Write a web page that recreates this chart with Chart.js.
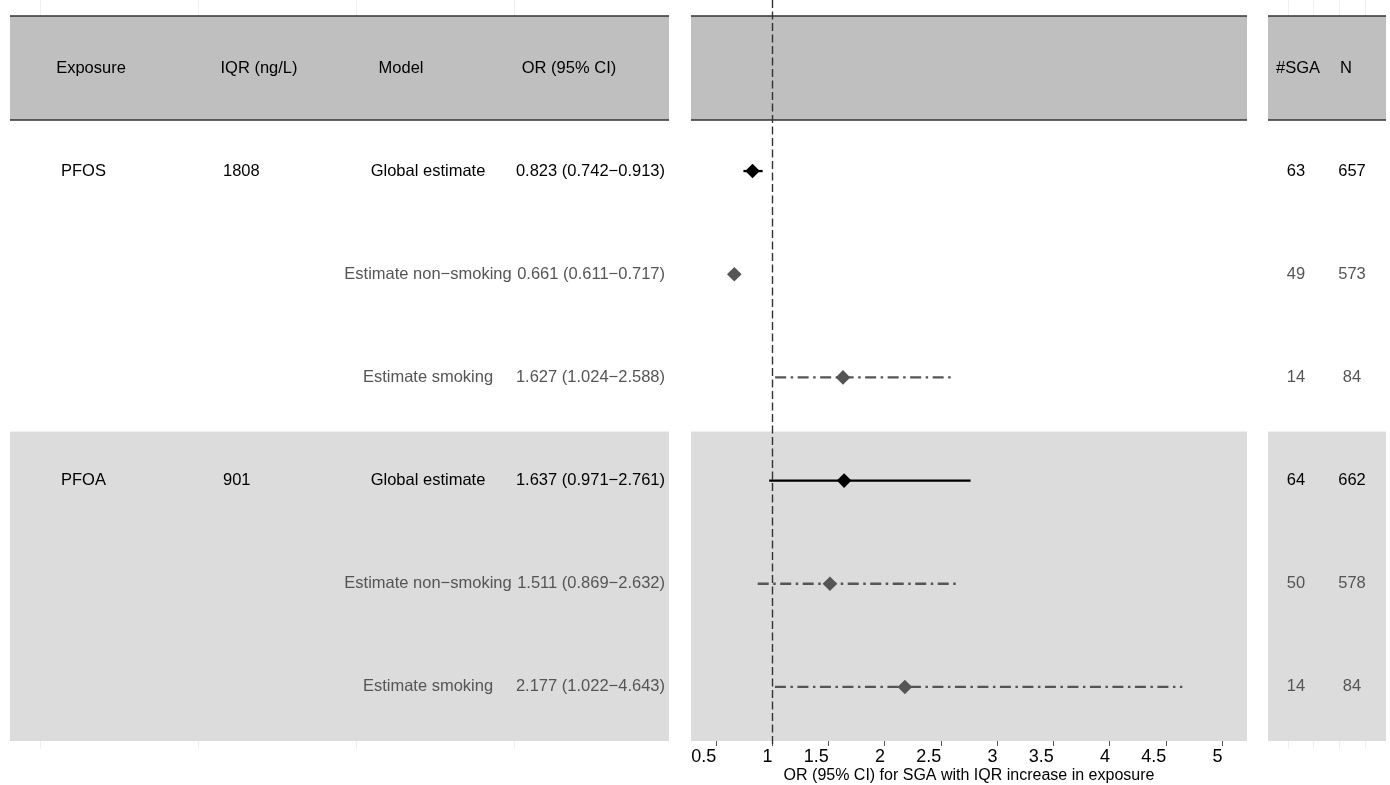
<!DOCTYPE html>
<html>
<head>
<meta charset="utf-8">
<script src="https://cdn.jsdelivr.net/npm/chart.js@4/dist/chart.umd.min.js"></script>
<style>
  html, body { margin: 0; padding: 0; background: #fff; }
  canvas { display: block; }
</style>
</head>
<body>
<canvas id="forestChart" width="1390" height="785"></canvas>
<script>
// Table / forest plot data
const exposures = ['PFOS', '', '', 'PFOA', '', ''];
const iqrValues = ['1808', '', '', '901', '', ''];
const models = ['Global estimate', 'Estimate non\u2212smoking', 'Estimate smoking',
                'Global estimate', 'Estimate non\u2212smoking', 'Estimate smoking'];
const orEstimate = [0.823, 0.661, 1.627, 1.637, 1.511, 2.177];
const orLower = [0.742, 0.611, 1.024, 0.971, 0.869, 1.022];
const orUpper = [0.913, 0.717, 2.588, 2.761, 2.632, 4.643];
const sgaCounts = [63, 49, 14, 64, 50, 14];
const totalCounts = [657, 573, 84, 662, 578, 84];
const isGlobal = [true, false, false, true, false, false];
const xTicks = [0.5, 1, 1.5, 2, 2.5, 3, 3.5, 4, 4.5, 5];
const refValue = 1;

const FONT = "'Liberation Sans', Arial, sans-serif";
const DARK = '#000000';
const GREY = '#555555';

const fmt = v => v.toFixed(3);
const orLabels = orEstimate.map((v, i) => `${fmt(v)} (${fmt(orLower[i])}\u2212${fmt(orUpper[i])})`);

// error bars: one short line per row
const ciDatasets = orEstimate.map((v, i) => ({
    data: [{ x: orLower[i], y: i }, { x: orUpper[i], y: i }],
    showLine: true,
    borderColor: isGlobal[i] ? DARK : GREY,
    borderWidth: 2.3,
    borderDash: isGlobal[i] ? [] : [11, 4.5, 2.5, 4.5],
    pointRadius: 0,
    order: 2
}));

const pointDataset = {
    data: orEstimate.map((v, i) => ({ x: v, y: i })),
    pointStyle: 'rectRot',
    pointRadius: 7.3,
    pointHoverRadius: 7.3,
    backgroundColor: isGlobal.map(g => g ? DARK : GREY),
    borderColor: isGlobal.map(g => g ? DARK : GREY),
    borderWidth: 0,
    order: 1
};

const HEADER_TOP = 16;
const LEFT_PANEL = [10, 669];
const RIGHT_PANEL = [1268, 1386];

const tablePlugin = {
    id: 'tablePlugin',
    beforeDraw(chart) {
        const { ctx, chartArea, scales } = chart;
        const y = scales.y;
        const panels = [LEFT_PANEL, [chartArea.left, chartArea.right], RIGHT_PANEL];
        ctx.save();
        ctx.fillStyle = '#fff';
        ctx.fillRect(0, 0, chart.width, chart.height);

        // faint grid remnants outside the table panels
        ctx.strokeStyle = '#efefef';
        ctx.lineWidth = 1;
        [40, 198, 356, 514, 1288, 1313, 1339, 1365].forEach(gx => {
            ctx.beginPath();
            ctx.moveTo(gx + 0.5, 0);
            ctx.lineTo(gx + 0.5, HEADER_TOP);
            ctx.moveTo(gx + 0.5, chartArea.bottom);
            ctx.lineTo(gx + 0.5, chartArea.bottom + 8);
            ctx.stroke();
        });

        const bandTop = y.getPixelForValue(2.525);
        panels.forEach(([x0, x1]) => {
            ctx.fillStyle = '#bfbfbf';
            ctx.fillRect(x0, HEADER_TOP, x1 - x0, chartArea.top - HEADER_TOP);
            ctx.fillStyle = '#dcdcdc';
            ctx.fillRect(x0, bandTop, x1 - x0, chartArea.bottom - bandTop);
        });
        ctx.restore();
    },
    beforeDatasetsDraw(chart) {
        const { ctx, chartArea, scales } = chart;
        const px = Math.round(scales.x.getPixelForValue(refValue)) + 0.5;
        ctx.save();
        ctx.strokeStyle = '#333';
        ctx.lineWidth = 1.4;
        ctx.setLineDash([8, 3.5]);
        ctx.beginPath();
        ctx.moveTo(px, 0);
        ctx.lineTo(px, chartArea.bottom + 4);
        ctx.stroke();
        ctx.restore();
    },
    afterDraw(chart) {
        const { ctx, chartArea, scales } = chart;
        const y = scales.y;
        const panels = [LEFT_PANEL, [chartArea.left, chartArea.right], RIGHT_PANEL];
        const headY = (HEADER_TOP + chartArea.top) / 2;
        ctx.save();

        // header rules
        ctx.strokeStyle = '#333';
        ctx.lineWidth = 1.5;
        panels.forEach(([x0, x1]) => {
            ctx.beginPath();
            ctx.moveTo(x0, HEADER_TOP);
            ctx.lineTo(x1, HEADER_TOP);
            ctx.moveTo(x0, chartArea.top);
            ctx.lineTo(x1, chartArea.top);
            ctx.stroke();
        });

        ctx.font = `16.5px ${FONT}`;
        ctx.textBaseline = 'middle';
        ctx.fillStyle = DARK;
        ctx.textAlign = 'center';
        ctx.fillText('Exposure', 91, headY);
        ctx.fillText('IQR (ng/L)', 259, headY);
        ctx.fillText('Model', 401, headY);
        ctx.fillText('OR (95% CI)', 569, headY);
        ctx.fillText('#SGA', 1298, headY);
        ctx.fillText('N', 1346, headY);

        models.forEach((m, i) => {
            const ry = y.getPixelForValue(i);
            ctx.fillStyle = isGlobal[i] ? DARK : GREY;
            ctx.textAlign = 'left';
            ctx.fillText(exposures[i], 61, ry);
            ctx.fillText(iqrValues[i], 223, ry);
            ctx.textAlign = 'center';
            ctx.fillText(m, 428, ry);
            ctx.textAlign = 'right';
            ctx.fillText(orLabels[i], 665, ry);
            ctx.textAlign = 'center';
            ctx.fillText(String(sgaCounts[i]), 1296, ry);
            ctx.fillText(String(totalCounts[i]), 1352, ry);
        });
        ctx.restore();
    }
};

new Chart(document.getElementById('forestChart'), {
    type: 'scatter',
    data: { datasets: [...ciDatasets, pointDataset] },
    options: {
        responsive: false,
        animation: false,
        events: [],
        layout: { padding: { left: 691, right: 143, top: 120, bottom: 1 } },
        plugins: {
            legend: { display: false },
            tooltip: { enabled: false }
        },
        scales: {
            x: {
                type: 'linear',
                min: 0.276,
                max: 5.218,
                afterBuildTicks: axis => { axis.ticks = xTicks.map(v => ({ value: v })); },
                border: { display: false },
                grid: {
                    drawOnChartArea: false,
                    drawTicks: true,
                    tickLength: 5,
                    color: '#555'
                },
                ticks: {
                    align: 'end',
                    padding: 2,
                    color: '#000',
                    maxRotation: 0,
                    font: { family: FONT, size: 18, lineHeight: 1 },
                    callback: v => String(v)
                },
                title: {
                    display: true,
                    text: 'OR (95% CI) for SGA with IQR increase in exposure',
                    color: '#000',
                    padding: { top: 0, bottom: 0 },
                    font: { family: FONT, size: 16, lineHeight: 1 }
                }
            },
            y: {
                type: 'linear',
                display: false,
                reverse: true,
                min: -0.495,
                max: 5.524
            }
        }
    },
    plugins: [tablePlugin]
});
</script>
</body>
</html>
